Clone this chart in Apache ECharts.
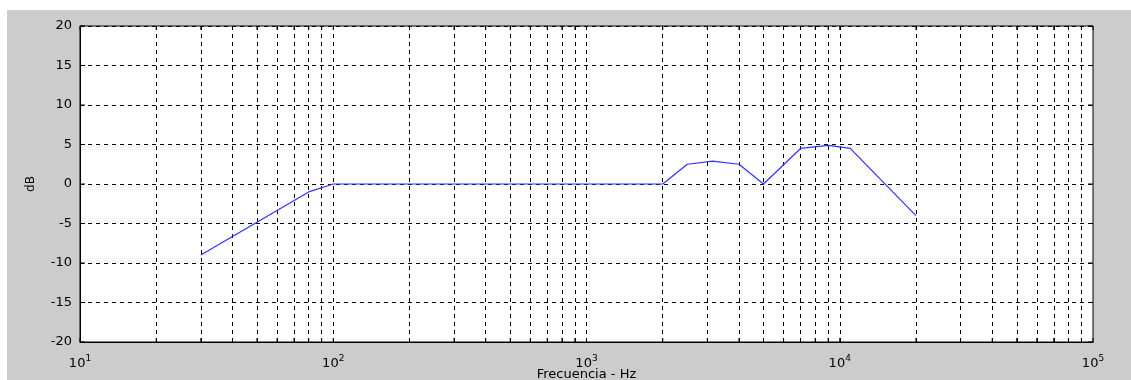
<!DOCTYPE html>
<html>
<head>
<meta charset="utf-8">
<title>Respuesta en frecuencia</title>
<script src="https://cdn.jsdelivr.net/npm/echarts@6/dist/echarts.min.js"></script>
<style>
  html, body { margin: 0; padding: 0; background: #fff; }
  #chart { width: 1131px; height: 380px; }
</style>
</head>
<body>
<div id="chart"></div>
<script>
// Frequency response (Hz, dB)
const freqs = [30, 80, 100, 2000, 2500, 3150, 4000, 5000, 7000, 9000, 11000, 20000];
const gainDb = [-9, -1, 0, 0, 2.5, 2.9, 2.5, 0, 4.5, 4.9, 4.5, -4];

// Axis ranges and grid positions
const xMin = 10, xMax = 100000;
const yTicks = [-20, -15, -10, -5, 0, 5, 10, 15, 20];
const decades = [10, 100, 1000, 10000, 100000];
const minorFreqs = [];
[10, 100, 1000, 10000].forEach(d => {
  for (let k = 2; k <= 9; k++) minorFreqs.push(d * k);
});
const xGridFreqs = minorFreqs.concat([100, 1000, 10000]);

const xLabel = 'Frecuencia - Hz';
const yLabel = 'dB';

const FONT = 'DejaVu Sans, Arial, sans-serif';
const DASH = [4, 4];

const chart = echarts.init(document.getElementById('chart'), null, { renderer: 'canvas' });

const option = {
  animation: false,
  backgroundColor: 'transparent',
  graphic: [{
    type: 'rect',
    z: -100,
    silent: true,
    shape: { x: 7, y: 10, width: 1124, height: 370 },
    style: { fill: '#cccccc' }
  }],
  grid: {
    left: 80, top: 26, right: 38, bottom: 38,
    outerBoundsMode: 'none',
    containLabel: false,
    show: true,
    backgroundColor: '#ffffff',
    borderColor: '#000000',
    borderWidth: 1
  },
  xAxis: {
    type: 'log',
    logBase: 10,
    min: xMin,
    max: xMax,
    name: xLabel,
    nameLocation: 'middle',
    nameGap: 26,
    nameMoveOverlap: false,
    nameTextStyle: { color: '#000', fontFamily: FONT, fontSize: 13 },
    axisLine: { show: true, onZero: false, lineStyle: { color: '#000', width: 1 } },
    axisTick: { show: false },
    splitLine: { show: false },
    axisLabel: {
      color: '#000',
      margin: 12,
      formatter: v => {
        const e = Math.round(Math.log10(v));
        return '{b|10}{e|' + e + '}';
      },
      rich: {
        b: { fontFamily: FONT, fontSize: 13, color: '#000' },
        e: { fontFamily: FONT, fontSize: 9, color: '#000', padding: [0, 0, 10, 0] }
      }
    }
  },
  yAxis: {
    type: 'value',
    min: -20,
    max: 20,
    interval: 5,
    name: yLabel,
    nameLocation: 'middle',
    nameGap: 43,
    nameRotate: 90,
    nameMoveOverlap: false,
    nameTextStyle: { color: '#000', fontFamily: FONT, fontSize: 12 },
    axisLine: { show: true, onZero: false, lineStyle: { color: '#000', width: 1 } },
    axisTick: { show: false },
    axisLabel: { color: '#000', fontFamily: FONT, fontSize: 13, margin: 8 },
    splitLine: { show: true, lineStyle: { color: '#000', type: DASH, width: 1 } }
  },
  series: [
    {
      // vertical dashed grid lines at decades and their 2..9 multiples
      type: 'line',
      data: [],
      silent: true,
      markLine: {
        silent: true,
        symbol: ['none', 'none'],
        label: { show: false },
        lineStyle: { color: '#000', type: DASH, width: 1 },
        emphasis: { disabled: true },
        data: xGridFreqs.map(f => ({ xAxis: f }))
      }
    },
    {
      // short solid tick marks on the inside of the frame
      type: 'custom',
      silent: true,
      data: minorFreqs.concat(decades).map(f => [f, 0]),
      renderItem: (params, api) => {
        const f = api.value(0);
        const top = api.coord([f, 20]);
        const bot = api.coord([f, -20]);
        const len = 4;
        return {
          type: 'group',
          children: [
            { type: 'line', shape: { x1: top[0], y1: top[1], x2: top[0], y2: top[1] + len }, style: { stroke: '#000', lineWidth: 1 } },
            { type: 'line', shape: { x1: bot[0], y1: bot[1], x2: bot[0], y2: bot[1] - len }, style: { stroke: '#000', lineWidth: 1 } }
          ]
        };
      },
      z: 3
    },
    {
      type: 'custom',
      silent: true,
      data: yTicks.map(v => [xMin, v]),
      renderItem: (params, api) => {
        const v = api.value(1);
        const l = api.coord([xMin, v]);
        const r = api.coord([xMax, v]);
        const len = 5;
        return {
          type: 'group',
          children: [
            { type: 'line', shape: { x1: l[0], y1: l[1], x2: l[0] + len, y2: l[1] }, style: { stroke: '#000', lineWidth: 1 } },
            { type: 'line', shape: { x1: r[0], y1: r[1], x2: r[0] - len, y2: r[1] }, style: { stroke: '#000', lineWidth: 1 } }
          ]
        };
      },
      encode: { x: 0, y: 1 },
      z: 3
    },
    {
      name: 'Respuesta',
      type: 'line',
      data: freqs.map((f, i) => [f, gainDb[i]]),
      showSymbol: false,
      symbol: 'none',
      lineStyle: { color: '#3030ff', width: 1.2 },
      itemStyle: { color: '#3030ff' },
      z: 5
    }
  ]
};

chart.setOption(option);
</script>
</body>
</html>
